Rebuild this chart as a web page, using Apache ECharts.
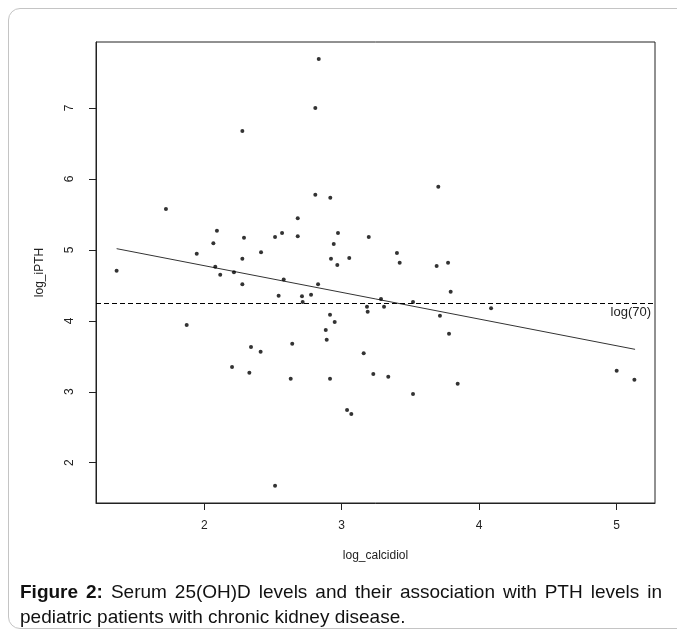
<!DOCTYPE html>
<html>
<head>
<meta charset="utf-8">
<script src="https://cdn.jsdelivr.net/npm/echarts@6/dist/echarts.min.js"></script>
<style>
  html, body { margin: 0; padding: 0; background: #fff; }
  #wrap { position: relative; width: 677px; height: 640px; overflow: hidden; }
  #frame { position: absolute; left: 8px; top: 8px; width: 720px; height: 621px; border: 1px solid #c4c4c4; border-radius: 12px; box-sizing: border-box; }
  #chart { position: absolute; left: 0; top: 0; width: 677px; height: 640px; }
  #caption { position: absolute; left: 20px; top: 579px; width: 642px; font-family: "Liberation Sans", Arial, sans-serif; font-size: 19px; line-height: 25px; color: #111; text-align: justify; }
</style>
</head>
<body>
<div id="wrap">
  <div id="frame"></div>
  <div id="chart"></div>
  <div id="caption"><b>Figure 2:</b> Serum 25(OH)D levels and their association with PTH levels in pediatric patients with chronic kidney disease.</div>
</div>
<script>
// log_calcidiol values
const logCalcidiol = [
  2.277, 1.721, 2.092, 2.066, 2.289, 2.515, 2.566, 1.945, 2.413, 2.277,
  1.362, 2.080, 2.116, 2.216, 2.578, 2.833, 2.808, 3.703, 2.808, 2.917,
  2.680, 2.680, 2.973, 3.197, 2.942, 3.402, 2.922, 3.055, 2.968, 3.422,
  3.691, 3.774, 2.277, 2.541, 1.872, 2.340, 2.410, 2.202, 2.328, 2.515,
  2.828, 2.711, 2.777, 2.716, 3.793, 3.286, 3.519, 3.184, 3.308, 3.189,
  2.915, 2.949, 3.715, 2.884, 2.891, 3.781, 2.640, 3.160, 2.629, 2.915,
  3.230, 3.339, 3.844, 3.519, 3.039, 3.070, 4.087, 5.001, 5.130
];
// log_iPTH values
const logIPTH = [
  6.676, 5.576, 5.270, 5.093, 5.172, 5.182, 5.238, 4.946, 4.966, 4.876,
  4.707, 4.763, 4.650, 4.684, 4.582, 7.691, 7.000, 5.891, 5.778, 5.736,
  5.445, 5.191, 5.238, 5.182, 5.083, 4.956, 4.876, 4.886, 4.787, 4.819,
  4.773, 4.819, 4.515, 4.354, 3.941, 3.631, 3.565, 3.349, 3.269, 1.676,
  4.515, 4.346, 4.368, 4.265, 4.411, 4.308, 4.265, 4.199, 4.199, 4.129,
  4.086, 3.983, 4.072, 3.871, 3.734, 3.818, 3.677, 3.542, 3.184, 3.184,
  3.250, 3.212, 3.114, 2.968, 2.743, 2.687, 4.177, 3.297, 3.170
];
// fitted regression line endpoints
const fitX = [1.362, 5.135];
const fitY = [5.017, 3.598];
// reference level
const refLevel = Math.log(70);
const refLabel = 'log(70)';
// ticks
const xTicks = [2, 3, 4, 5];
const yTicks = [2, 3, 4, 5, 6, 7];

const points = logCalcidiol.map((x, i) => [x, logIPTH[i]]);
const fitLine = fitX.map((x, i) => [x, fitY[i]]);

const chart = echarts.init(document.getElementById('chart'));
const axisCol = '#222';
chart.setOption({
  animation: false,
  grid: {
    left: 96, top: 42, right: 22, bottom: 137,
    containLabel: false, outerBoundsMode: 'none',
    show: true, borderColor: axisCol, borderWidth: 1, backgroundColor: 'transparent'
  },
  xAxis: {
    type: 'value', min: 1.212, max: 5.28,
    name: 'log_calcidiol', nameLocation: 'middle', nameGap: 47,
    nameTextStyle: { fontFamily: 'Liberation Sans', fontSize: 12, color: '#222' },
    axisLine: { show: true, onZero: false, lineStyle: { color: axisCol, width: 1 } },
    axisTick: { show: true, length: 7, customValues: xTicks, lineStyle: { color: axisCol } },
    axisLabel: { customValues: xTicks, margin: 17, fontFamily: 'Liberation Sans', fontSize: 12, color: '#222' },
    splitLine: { show: false }
  },
  yAxis: {
    type: 'value', min: 1.432, max: 7.93,
    name: 'log_iPTH', nameLocation: 'middle', nameGap: 50, nameRotate: 90,
    nameTextStyle: { fontFamily: 'Liberation Sans', fontSize: 12, color: '#222' },
    axisLine: { show: true, onZero: false, lineStyle: { color: axisCol, width: 1 } },
    axisTick: { show: true, length: 7, customValues: yTicks, lineStyle: { color: axisCol } },
    axisLabel: { customValues: yTicks, rotate: 90, margin: 20, fontFamily: 'Liberation Sans', fontSize: 12, color: '#222' },
    splitLine: { show: false }
  },
  series: [
    {
      type: 'scatter', data: points, symbol: 'circle', symbolSize: 4,
      itemStyle: { color: '#000' }, z: 5,
      markLine: {
        silent: true, symbol: ['none', 'none'],
        lineStyle: { color: '#000', width: 1, type: [5, 3] },
        label: { show: true, position: 'insideEndBottom', formatter: refLabel, distance: [4, 3],
          fontFamily: 'Liberation Sans', fontSize: 13, color: '#222' },
        data: [{ yAxis: refLevel }]
      }
    },
    {
      type: 'line', data: fitLine, symbol: 'none',
      lineStyle: { color: '#333', width: 1 }, z: 4
    }
  ]
});
</script>
</body>
</html>
